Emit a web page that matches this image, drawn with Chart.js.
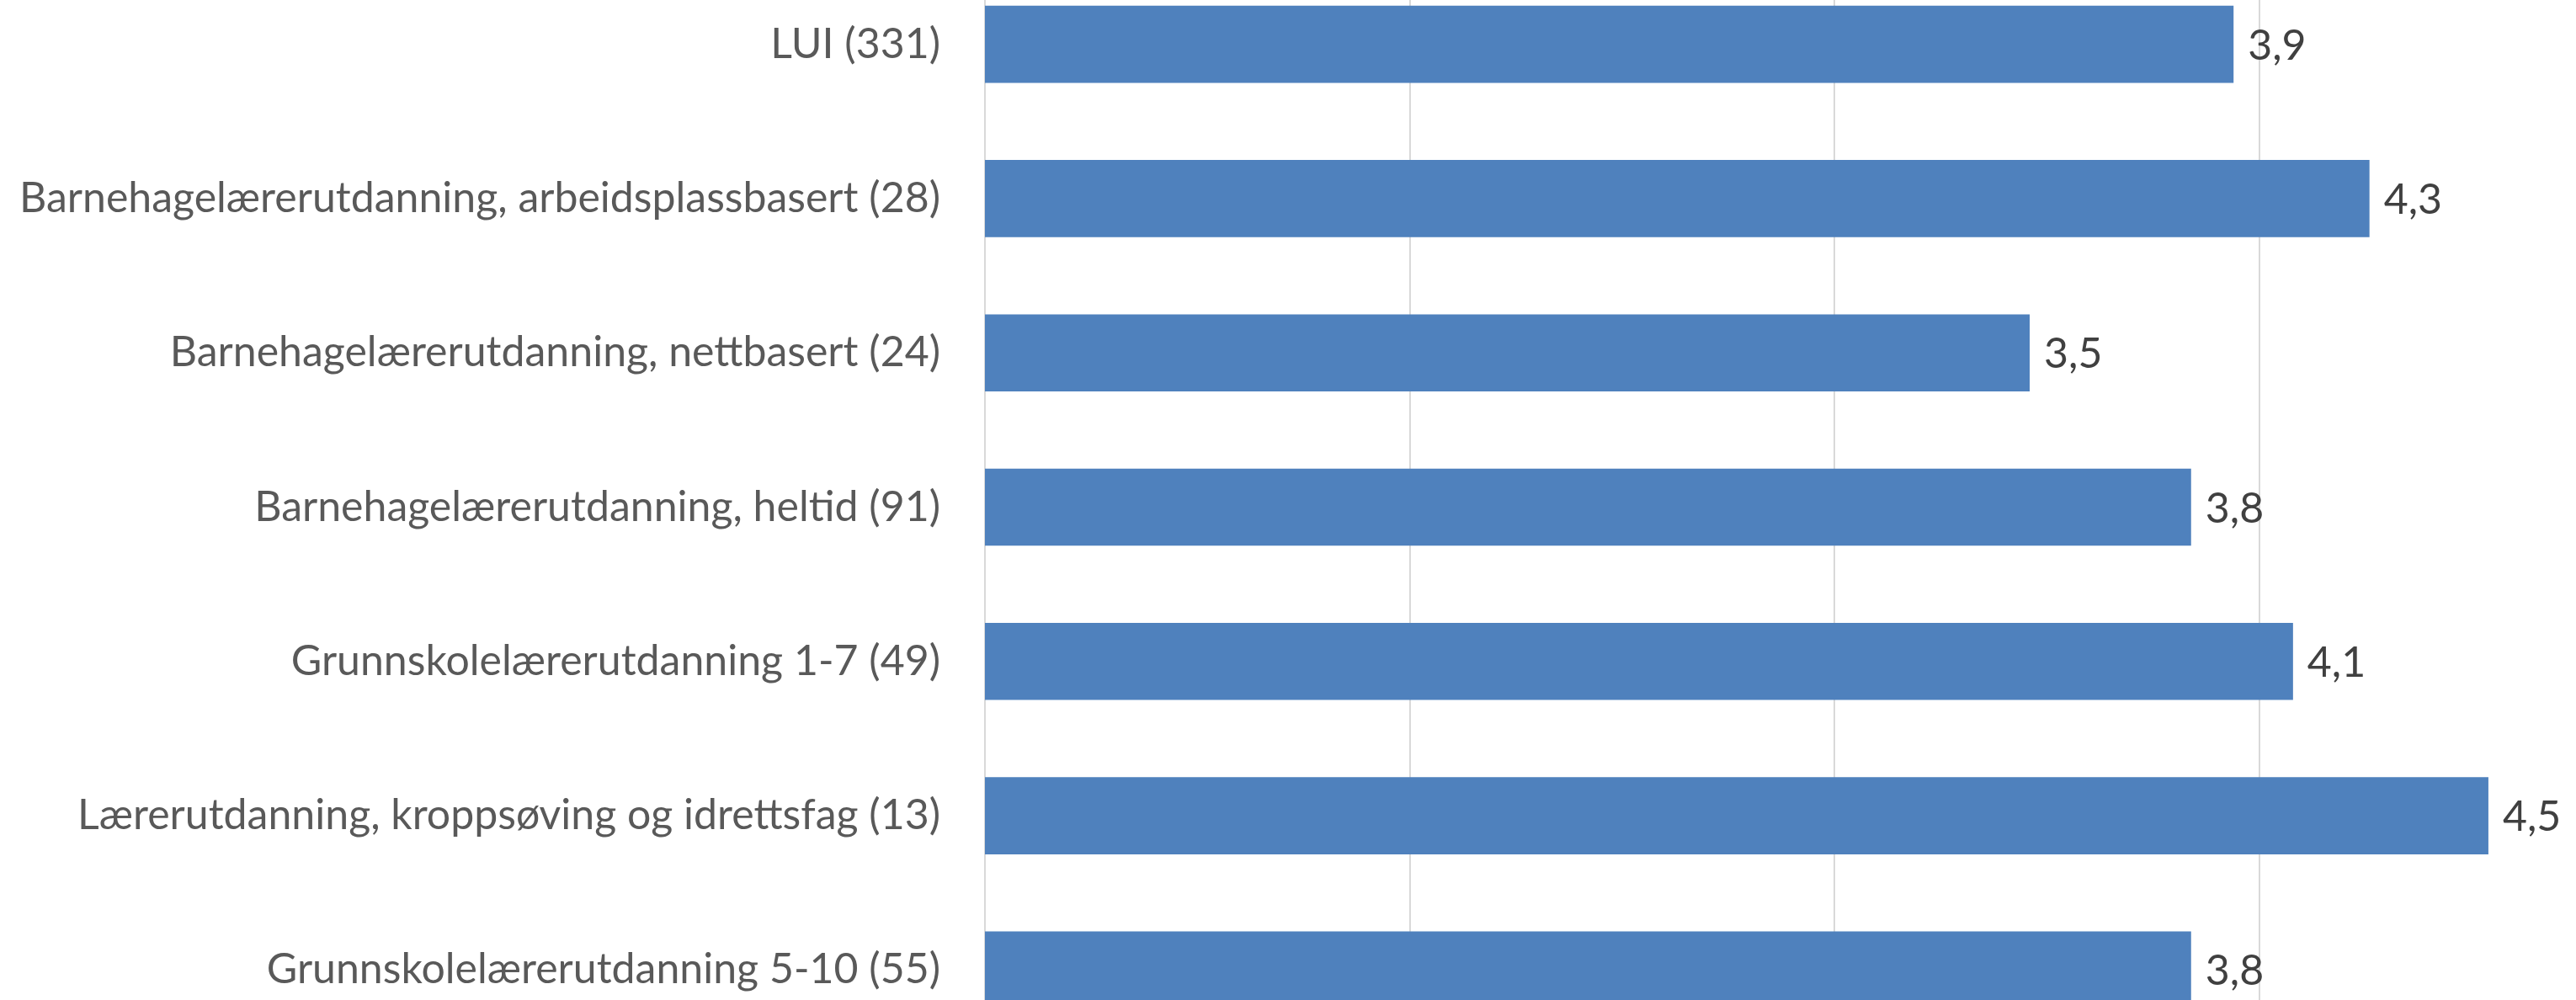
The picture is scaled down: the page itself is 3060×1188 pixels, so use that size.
<!DOCTYPE html>
<html>
<head>
<meta charset="utf-8">
<script src="https://cdn.jsdelivr.net/npm/chart.js@4/dist/chart.umd.min.js"></script>
<style>
  html, body { margin: 0; padding: 0; background: #fff; overflow: hidden; width: 3060px; height: 1188px; }
  .wrap-chart { position: absolute; left: 0; top: -39px; width: 3188px; height: 1283px; }
</style>
</head>
<body>
<div class="wrap-chart"><canvas></canvas></div>
<script>
const categories = [
    'LUI (331)',
    'Barnehagelærerutdanning, arbeidsplassbasert (28)',
    'Barnehagelærerutdanning, nettbasert (24)',
    'Barnehagelærerutdanning, heltid (91)',
    'Grunnskolelærerutdanning 1-7 (49)',
    'Lærerutdanning, kroppsøving og idrettsfag (13)',
    'Grunnskolelærerutdanning 5-10 (55)'
];
const values = [3.94, 4.26, 3.46, 3.84, 4.08, 4.54, 3.84];
const xTicks = [1, 2, 3, 4, 5];

const fontFamily = 'Lato';

// draws the "3,9" style labels after the bars
const valueLabels = {
    id: 'valueLabels',
    afterDatasetsDraw(chart) {
        const c = chart.ctx;
        c.save();
        c.font = '50px ' + fontFamily;
        c.fillStyle = '#404040';
        c.textAlign = 'left';
        c.textBaseline = 'middle';
        chart.getDatasetMeta(0).data.forEach((bar, i) => {
            const txt = values[i].toFixed(1).replace('.', ',');
            c.fillText(txt, bar.x + 17, bar.y + 2);
        });
        c.restore();
    }
};

const ctx = document.querySelector('.wrap-chart canvas').getContext('2d');
const chart = new Chart(ctx, {
    type: 'bar',
    data: {
        labels: categories,
        datasets: [{
            data: values,
            backgroundColor: '#4F81BD',
            borderWidth: 0,
            barPercentage: 0.5,
            categoryPercentage: 1
        }]
    },
    options: {
        indexAxis: 'y',
        responsive: true,
        maintainAspectRatio: false,
        animation: false,
        layout: { padding: 0 },
        plugins: {
            legend: { display: false },
            tooltip: { enabled: false }
        },
        scales: {
            x: {
                min: xTicks[0],
                max: xTicks[xTicks.length - 1],
                afterBuildTicks: (scale) => { scale.ticks = xTicks.map(v => ({ value: v })); },
                ticks: { display: false },
                grid: { color: '#d9d9d9', lineWidth: 2, drawTicks: false },
                border: { display: false }
            },
            y: {
                afterFit: (scale) => {
                    scale.width = 1170;
                    scale.paddingTop = 0;
                    scale.paddingBottom = 0;
                },
                ticks: {
                    color: '#595959',
                    font: { family: fontFamily, size: 50 },
                    padding: 53
                },
                grid: { display: false, drawTicks: false },
                border: { display: true, color: '#d9d9d9', width: 2 }
            }
        }
    },
    plugins: [valueLabels]
});
</script>
</body>
</html>
